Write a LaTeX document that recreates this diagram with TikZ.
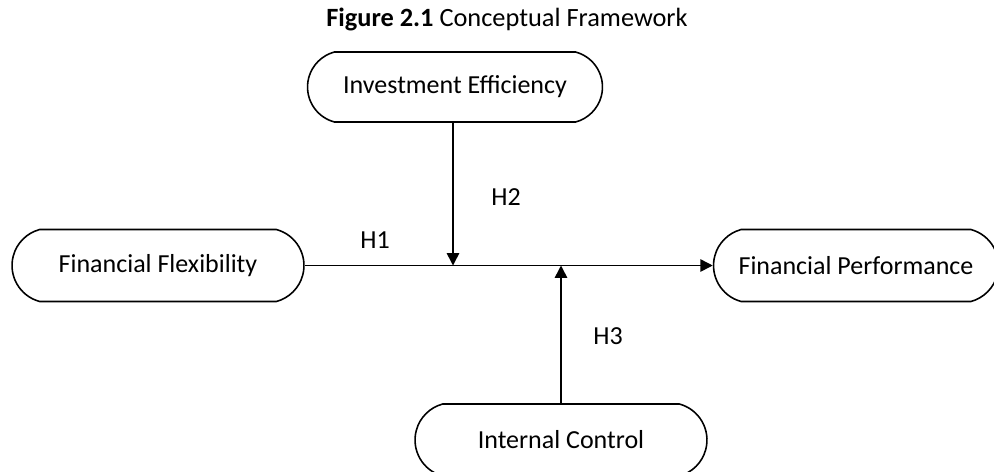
\documentclass[tikz,border=0pt]{standalone}
\usepackage{fontspec}
\setmainfont{Carlito}
\usetikzlibrary{shapes.misc,arrows.meta}
\tikzset{
  varbox/.style={draw, line width=0.9pt, rounded rectangle, rounded rectangle arc length=150,
    minimum width=5.84cm, minimum height=1.44cm, inner sep=0pt,
    font=\fontsize{14.8}{17}\selectfont},
  hlabel/.style={font=\fontsize{14.8}{17}\selectfont, inner sep=0pt},
  link/.style={line width=0.9pt, -{Triangle[length=7pt,width=7pt]}}
}
\begin{document}
\begin{tikzpicture}[x=0.02cm,y=-0.02cm]
\useasboundingbox (0,0) rectangle (994,471);
\node[font=\fontsize{15}{17}\selectfont] (title) at (507,19) {\textbf{Figure 2.1} Conceptual Framework};
\node[varbox, minimum width=5.9cm, minimum height=1.4cm] (ie) at (455,87) {Investment Efficiency};
\node[varbox] (ff) at (158,265.5) {Financial Flexibility};
\node[varbox, minimum width=5.7cm] (fp) at (856,265.5) {Financial Performance};
\node[varbox, minimum width=5.84cm, minimum height=1.44cm] (ic) at (561,440) {Internal Control};
\coordinate (m2) at (453,265.5);
\coordinate (m3) at (561,265.5);
\draw[link] (ff.east) -- (fp.west);
\draw[link] (ie.south -| m2) -- (m2);
\draw[link] (ic.north) -- (m3);
\node[hlabel] (h1) at (375,240) {H1};
\node[hlabel] (h2) at (506,197) {H2};
\node[hlabel] (h3) at (608,336) {H3};
\end{tikzpicture}
\end{document}
